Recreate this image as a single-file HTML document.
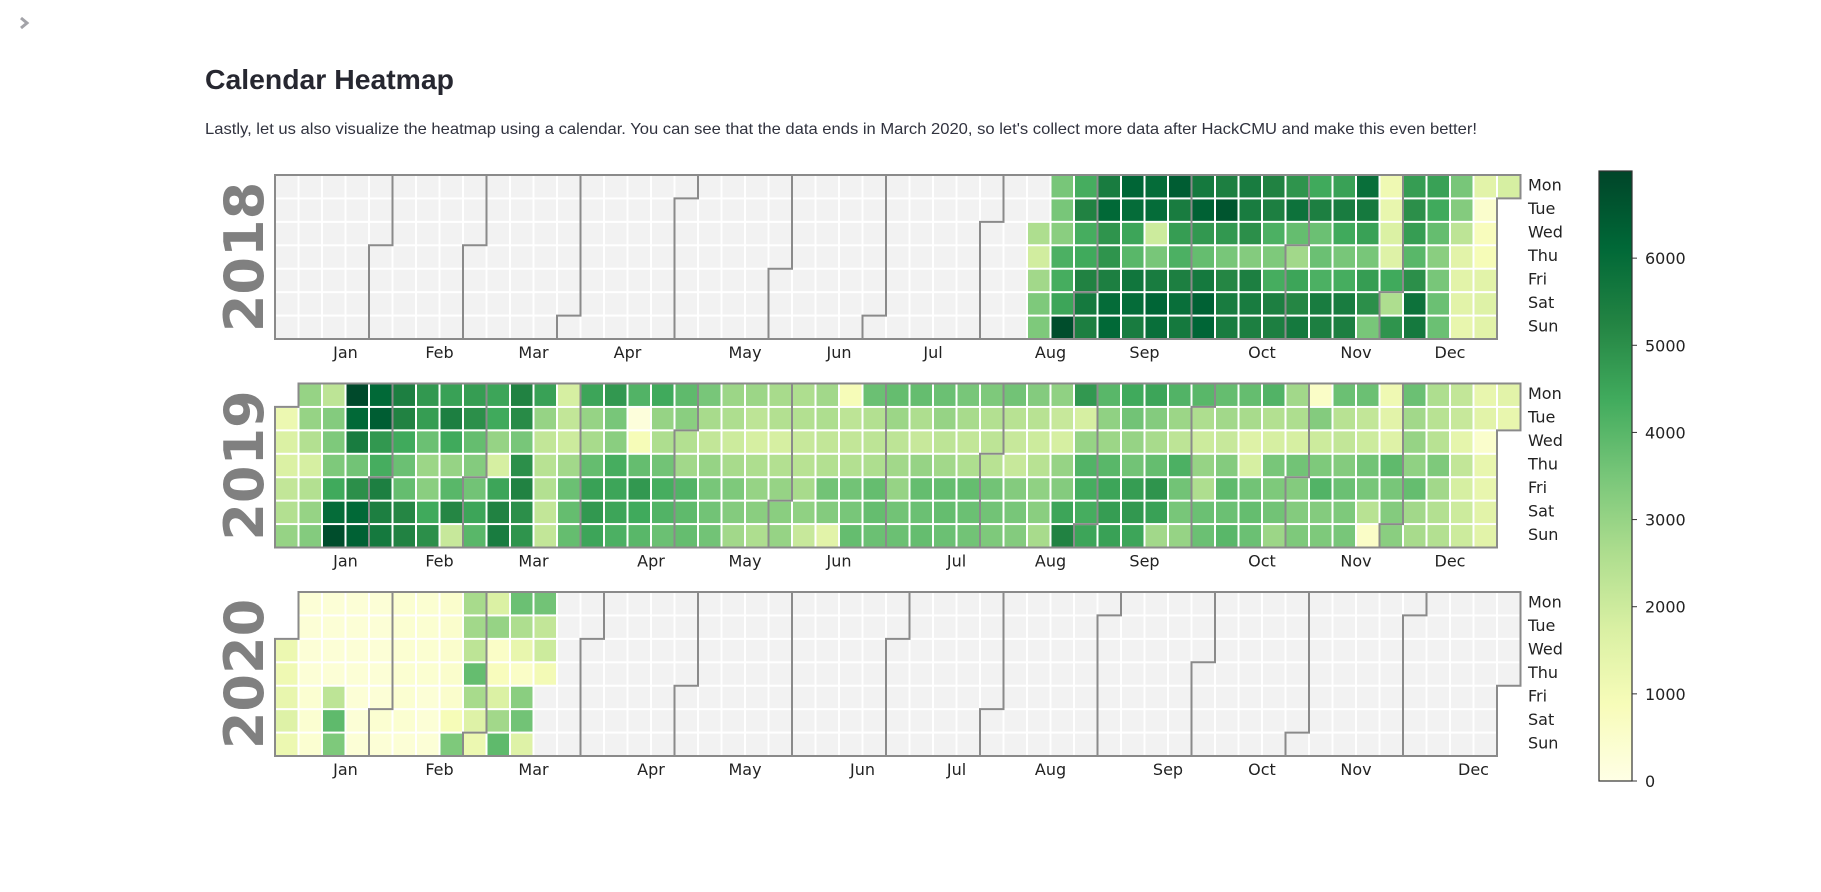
<!DOCTYPE html>
<html><head><meta charset="utf-8"><title>Calendar Heatmap</title>
<style>
html,body{margin:0;padding:0;background:#fff;}
svg{display:block;}
</style></head>
<body>
<svg id="chart" width="1821" height="892" viewBox="0 0 1821 892" xmlns="http://www.w3.org/2000/svg">
  <path d="M21 18 L27 23 L21 28" fill="none" stroke="#a3a3a8" stroke-width="3"/>
  <text x="205" y="89" font-family="Liberation Sans, sans-serif" font-size="28" font-weight="700" fill="#262730" textLength="249" lengthAdjust="spacingAndGlyphs">Calendar Heatmap</text>
  <text x="205" y="134" font-family="Liberation Sans, sans-serif" font-size="16" fill="#31333f" textLength="1272" lengthAdjust="spacingAndGlyphs">Lastly, let us also visualize the heatmap using a calendar. You can see that the data ends in March 2020, so let's collect more data after HackCMU and make this even better!</text>
  <g id="years"></g>
  <g id="cbar"></g>
</svg>
<script>
// ---- data (values per weekday row, indexed by week column) ----
const years = [2018, 2019, 2020];
const startCol2018 = 32;
const mon2018 = [null,3500,4300,5500,6200,6000,6400,5600,5400,5500,5300,4900,4400,4600,5900,1100,4700,4600,3500,1500,1800];
const tue2018 = [null,3500,5300,6100,6000,6000,5500,6300,6600,5500,5400,5800,5400,5500,5600,1300,5000,4400,3300,500];
const wed2018 = [2600,3200,4300,4900,4500,2000,4700,4800,4800,5000,4200,3800,3700,4400,4600,1700,4700,3800,2300,800];
const thu2018 = [1900,4200,4400,4900,4000,3500,4200,3800,3500,3300,3400,2800,3700,3500,3500,1600,4000,3200,1500,900];
const fri2018 = [2800,4300,5300,5400,5700,5500,5400,5600,5200,5400,4300,4500,4200,4300,4700,4400,5000,3500,1500,1500];
const sat2018 = [3400,4500,5600,6000,6000,6200,5900,6300,5500,5500,5400,5200,5500,5500,5000,2600,5800,3700,1500,1600];
const sun2018 = [3400,6800,5400,6100,5500,5900,5600,6200,5500,5400,5400,5600,5400,5400,3500,4900,5600,3700,1300,1500];

const startCol2019 = 0;
const mon2019 = [null,3000,2300,6900,6100,5400,4800,4600,4700,4500,5300,4600,1800,4500,4800,4100,4400,3900,3500,2900,2900,2700,2600,2800,900,3700,3800,3800,3700,3500,3400,3600,3300,3100,4800,4000,4400,4500,4100,4000,3800,3800,4100,2800,600,3700,3700,1100,3700,2600,2200,1300,1500];
const tue2019 = [1200,3000,3300,6100,6400,5300,4700,5400,5000,4400,5100,3000,2200,3000,3500,200,3000,3200,2700,2600,2300,2500,2500,2600,2300,2500,2900,2600,3000,2700,2500,2400,2400,2100,1800,3100,3600,3300,2900,2600,2800,2700,2500,2600,3300,2400,2200,1500,2800,2400,2100,1500,1300];
const wed2019 = [1700,2500,3400,5500,4800,4400,3700,4400,3800,3000,3500,2200,2000,2700,3200,900,2600,2500,2200,2000,1800,1800,2100,2200,2200,2300,2300,2100,2300,2200,2300,2100,2000,1800,3000,2900,3000,2700,2300,2000,2100,1600,1800,1800,2000,2200,2000,1600,3000,2400,1400,500];
const thu2019 = [1700,1800,3400,3600,4300,3700,2900,3000,3300,1800,5000,2400,2800,3800,4300,3800,3600,2800,3000,2700,2600,2500,2400,2500,2500,2600,2800,3000,2800,2600,2400,2100,2400,3000,4100,4000,3600,3800,4200,3000,3300,1800,3500,3600,3400,3300,3600,3900,3100,3400,2200,1300];
const fri2019 = [2200,2500,4400,5000,5400,3800,3200,4000,3600,4500,5300,2500,3700,4600,4500,4800,4300,4100,3500,3400,3000,3000,2700,3600,3600,3800,3000,3800,3800,3800,3600,3300,3100,3300,4300,4500,4700,4900,3600,2600,3900,3600,3400,3300,4100,3700,3500,3500,3800,2800,1800,1300];
const sat2019 = [2500,3000,6000,6100,5400,5200,4400,5200,4500,5300,5000,2200,3800,4800,4500,4400,4100,3900,3600,3300,3200,3200,3100,3300,3500,3800,3600,3700,3800,3700,3600,3500,3200,4500,4300,4700,4800,4600,3500,3700,3700,3800,3600,3300,3300,3400,2400,3300,2800,2500,2000,1500];
const sun2019 = [3000,3300,6800,6300,5600,5300,5000,2100,4000,5500,4900,2200,3800,4500,4200,4000,3700,3800,3600,2800,2600,3000,2100,1500,3800,3700,3700,3800,3700,3600,3400,3300,2700,5300,4500,4600,4500,2800,3000,3700,4000,3700,2900,3400,3400,3500,600,3200,2700,2500,2000,1500];

const startCol2020 = 0;
const mon2020 = [null,300,300,300,300,400,400,500,2700,1700,3700,3600];
const tue2020 = [null,300,300,300,300,400,400,500,2800,3000,2600,2200];
const wed2020 = [1200,300,300,300,300,400,400,500,2300,600,1300,2000];
const thu2020 = [1100,300,300,300,300,400,400,500,3800,800,600,1000];
const fri2020 = [1300,400,2300,300,300,400,300,500,2700,1700,3200];
const sat2020 = [1600,400,3900,300,400,400,300,900,1600,2800,3600];
const sun2020 = [1200,400,3400,300,300,300,300,3400,1200,3900,1600];

const dayNames = ['Mon','Tue','Wed','Thu','Fri','Sat','Sun'];
const monthNames = ['Jan','Feb','Mar','Apr','May','Jun','Jul','Aug','Sep','Oct','Nov','Dec'];
const cbarTicks = [0,1000,2000,3000,4000,5000,6000];
const vmax = 7000;

const yearRows = {
  2018: {start: startCol2018, rows: [mon2018,tue2018,wed2018,thu2018,fri2018,sat2018,sun2018]},
  2019: {start: startCol2019, rows: [mon2019,tue2019,wed2019,thu2019,fri2019,sat2019,sun2019]},
  2020: {start: startCol2020, rows: [mon2020,tue2020,wed2020,thu2020,fri2020,sat2020,sun2020]}
};

// ---- layout ----
const NS = 'http://www.w3.org/2000/svg';
const gridLeft = 275, colW = 23.5, rowH = 23.43, blockH = 164;
const yearTops = [175, 383.5, 592];
const X = c => gridLeft + colW * c;
const cmapStops = [[0,'#ffffe5'],[0.125,'#f7fcb9'],[0.25,'#d9f0a3'],[0.375,'#addd8e'],[0.5,'#78c679'],[0.625,'#41ab5d'],[0.75,'#238443'],[0.875,'#006837'],[1,'#004529']];
function hex(h){return [parseInt(h.slice(1,3),16),parseInt(h.slice(3,5),16),parseInt(h.slice(5,7),16)];}
function cmap(v){
  let t = Math.max(0, Math.min(1, v / vmax));
  for (let i=1;i<cmapStops.length;i++){
    if (t <= cmapStops[i][0]){
      const a=cmapStops[i-1], b=cmapStops[i];
      const f=(t-a[0])/(b[0]-a[0]);
      const ca=hex(a[1]), cb=hex(b[1]);
      return 'rgb('+ca.map((x,k)=>Math.round(x+(cb[k]-x)*f)).join(',')+')';
    }
  }
  return cmapStops[cmapStops.length-1][1];
}
function mk(tag, attrs, parent){
  const e=document.createElementNS(NS,tag);
  for (const k in attrs) e.setAttribute(k, attrs[k]);
  parent.appendChild(e); return e;
}
const yearsG = document.getElementById('years');

years.forEach((yr, yi) => {
  const top = yearTops[yi];
  const Y = r => top + rowH * r;
  const g = mk('g', {}, yearsG);
  
  
  const jan1 = new Date(Date.UTC(yr,0,1));
  const off = (jan1.getUTCDay() + 6) % 7;
  const isLeap = (yr%4===0 && yr%100!==0) || yr%400===0;
  const nDays = isLeap ? 366 : 365;
  const info = yearRows[yr];
  const pos = d => [Math.floor((d + off) / 7), (d + off) % 7];
  for (let d=0; d<nDays; d++){
    const [c, r] = pos(d);
    const idx = c - info.start;
    const row = info.rows[r];
    const v = (idx >= 0 && row && idx < row.length) ? row[idx] : null;
    const cell = mk('rect', {x: X(c)+1, y: Y(r)+1, width: colW-2, height: rowH-2, fill: v==null ? '#f2f2f2' : cmap(v)}, g);
    
    
  }
  // month borders and labels
  const doyOf = (m, day) => Math.round((Date.UTC(yr,m,day) - jan1) / 86400000);
  for (let m=0; m<12; m++){
    const first = doyOf(m,1);
    const last = (m===11 ? nDays : doyOf(m+1,1)) - 1;
    const [fc, fr] = pos(first);
    const [lc] = pos(last);
    if (m>0){
      let dpath;
      if (fr===0) dpath = `M${X(fc)} ${top} L${X(fc)} ${top+blockH}`;
      else dpath = `M${X(fc+1)} ${top} L${X(fc+1)} ${Y(fr)} L${X(fc)} ${Y(fr)} L${X(fc)} ${top+blockH}`;
      const b = mk('path', {d: dpath, fill:'none', stroke:'#8a8a8a', 'stroke-width':2}, g);
      
      
    }
    const lx = X(Math.floor((fc+lc)/2) + 1);
    const lab = mk('text', {x: lx, y: top+blockH+19, 'text-anchor':'middle', 'font-family':'DejaVu Sans, sans-serif', 'font-size':16, fill:'#222'}, g);
    lab.textContent = monthNames[m];
    
    
  }
  // outline
  const [c0, r0] = pos(0);
  const [cl, rl] = pos(nDays-1);
  let pts = [];
  pts.push([X(r0>0?1:0), top]);
  pts.push([X(cl+1), top]);
  if (rl<6){ pts.push([X(cl+1), Y(rl+1)]); pts.push([X(cl), Y(rl+1)]); pts.push([X(cl), top+blockH]); }
  else pts.push([X(cl+1), top+blockH]);
  pts.push([X(0), top+blockH]);
  if (r0>0){ pts.push([X(0), Y(r0)]); pts.push([X(1), Y(r0)]); }
  const ol = mk('polygon', {points: pts.map(p=>p.join(',')).join(' '), fill:'none', stroke:'#8a8a8a', 'stroke-width':2}, g);
  
  
  // weekday labels
  dayNames.forEach((dn, r) => {
    const t = mk('text', {x: 1528, y: Y(r)+rowH/2+4, 'font-family':'DejaVu Sans, sans-serif', 'font-size':16, fill:'#222'}, g);
    t.textContent = dn;
    
    
  });
  // year label
  const cy = top + blockH/2;
  const yl = mk('text', {x: 0, y: 0, transform:`translate(263 ${cy}) rotate(-90)`, 'text-anchor':'middle', 'font-family':'DejaVu Sans, sans-serif', 'font-size':54, 'font-weight':'bold', fill:'#808080'}, g);
  yl.textContent = String(yr);
  
  
});

// ---- colorbar ----
const cb = document.getElementById('cbar');


const cbL = 1599, cbR = 1632, cbTop = 171, cbBot = 781;
const cbY = v => cbBot - (cbBot - cbTop) * v / vmax;
const defs = mk('defs', {}, cb);
const lg = mk('linearGradient', {id:'ylgn', x1:0, y1:1, x2:0, y2:0}, defs);
cmapStops.forEach(s => mk('stop', {offset: s[0], 'stop-color': s[1]}, lg));
const bar = mk('rect', {x: cbL, y: cbTop, width: cbR-cbL, height: cbBot-cbTop, fill:'url(#ylgn)', stroke:'#333', 'stroke-width':1.2}, cb);


cbarTicks.forEach(v => {
  const y = cbY(v);
  const tk = mk('line', {x1: cbR, x2: cbR+5, y1: y, y2: y, stroke:'#333', 'stroke-width':1}, cb);
  
  
  const tl = mk('text', {x: cbR+13, y: y+6, 'font-family':'DejaVu Sans, sans-serif', 'font-size':16, fill:'#222'}, cb);
  tl.textContent = String(v);
  
  
});
</script>
</body></html>
